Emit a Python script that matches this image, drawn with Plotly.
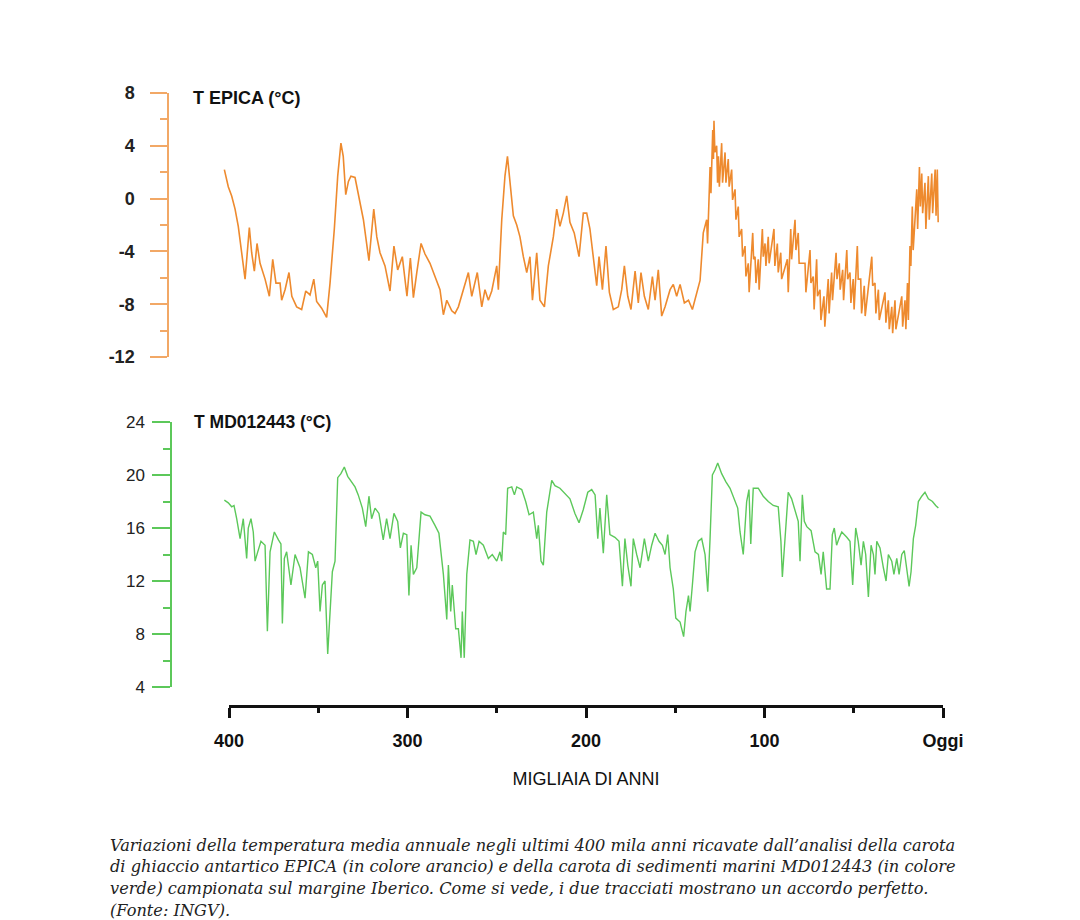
import plotly.graph_objects as go

# EPICA ice core temperature (thousands of years ago, degC)
epica_age = [402.6, 400.4, 398.5, 396.6, 394.8, 392.9, 391.0, 388.6, 387.3, 385.8, 384.3, 382.6,
             379.8, 377.4, 375.5, 373.7, 371.4, 370.5, 368.6, 366.4, 364.8, 362.1, 359.3, 357.0,
             354.6, 352.5, 350.9, 348.1, 345.3, 343.4, 341.0, 339.1, 337.3, 336.0, 334.6, 333.1,
             331.7, 329.4, 327.5, 324.7, 321.6, 320.4, 318.9, 317.2, 315.4, 312.6, 309.8, 307.6,
             305.5, 302.9, 300.3, 298.4, 296.7, 294.8, 292.4, 290.2, 287.4, 284.6, 281.8, 279.9,
             278.0, 275.2, 273.4, 271.5, 268.7, 265.9, 264.0, 260.9, 258.4, 256.6, 254.7, 252.8,
             250.0, 249.1, 247.2, 245.4, 244.0, 242.6, 240.7, 238.8, 237.0, 235.1, 233.2, 231.4,
             230.0, 227.6, 225.8, 223.3, 221.1, 218.3, 216.4, 214.6, 212.7, 210.8, 209.0, 206.6,
             203.9, 201.5, 199.6, 197.8, 195.9, 194.0, 192.7, 190.8, 188.8, 186.9, 184.7, 181.9,
             180.0, 178.5, 176.6, 174.8, 172.5, 170.7, 169.2, 167.3, 165.1, 162.8, 161.3, 159.5,
             157.6, 155.7, 152.9, 151.1, 149.2, 147.3, 144.9, 142.6, 140.4, 138.5, 136.1, 134.3,
             132.4, 131.9, 130.5, 130.0, 129.0, 128.6, 128.3, 127.8, 126.8, 126.3, 125.8, 125.3,
             124.0, 123.5, 122.1, 121.6, 120.3, 119.8, 118.4, 117.9, 116.5, 116.0, 114.7, 114.2,
             112.8, 112.3, 110.9, 110.4, 109.1, 108.6, 106.6, 106.1, 105.3, 104.8, 103.5, 103.0,
             101.2, 100.7, 99.7, 99.2, 97.9, 97.4, 94.7, 94.2, 92.8, 92.3, 90.9, 90.4,
             87.2, 86.7, 85.3, 84.8, 82.9, 82.4, 81.1, 80.6, 77.3, 76.8, 74.5, 74.0,
             72.7, 72.2, 70.8, 70.3, 68.9, 68.4, 66.7, 66.2, 64.3, 63.8, 62.4, 61.9,
             59.9, 59.4, 58.1, 57.6, 56.2, 55.7, 53.9, 53.4, 52.1, 51.6, 50.3, 49.8,
             48.0, 47.5, 46.1, 45.6, 44.1, 43.6, 39.9, 39.4, 38.1, 37.6, 36.2, 35.7,
             32.5, 32.0, 30.6, 30.1, 28.7, 28.2, 26.9, 26.4, 23.1, 22.6, 21.3, 20.8,
             19.9, 19.4, 18.5, 18.0, 17.2, 16.7, 14.7, 14.2, 13.2, 12.7, 11.9, 11.4,
             10.1, 9.6, 8.2, 7.7, 6.3, 5.8, 4.4, 3.9, 3.2, 2.7]
epica_temp = [2.2, 0.9, 0.2, -0.8, -2.1, -4.1, -6.1, -2.2, -4.1, -5.5, -3.4, -4.9,
              -6.1, -7.4, -4.6, -6.4, -6.4, -7.7, -6.9, -5.6, -7.4, -8.2, -8.4, -7.0,
              -7.3, -6.1, -7.8, -8.3, -9.0, -6.4, -2.3, 1.7, 4.2, 3.2, 0.3, 1.3,
              1.7, 1.6, 0.3, -1.6, -4.7, -2.9, -0.8, -2.9, -4.1, -5.1, -7.0, -3.6,
              -5.4, -4.4, -7.4, -4.5, -7.5, -5.6, -3.4, -4.2, -4.9, -5.9, -6.9, -8.8,
              -7.7, -8.5, -8.7, -8.2, -6.9, -5.6, -7.4, -5.6, -8.2, -6.9, -7.7, -7.0,
              -5.1, -6.9, -1.6, 1.7, 3.2, 1.2, -1.3, -2.0, -2.9, -4.4, -5.6, -4.4,
              -7.7, -4.1, -7.7, -8.2, -5.1, -2.9, -0.8, -2.1, -1.1, 0.2, -1.8, -2.6,
              -4.4, -1.1, -1.1, -2.3, -4.6, -6.6, -4.4, -6.9, -3.6, -7.1, -8.4, -8.2,
              -6.9, -5.1, -7.4, -8.4, -5.5, -7.9, -5.6, -7.4, -8.4, -5.9, -7.7, -5.4,
              -8.9, -8.2, -6.9, -6.5, -7.4, -6.5, -7.9, -7.7, -8.4, -7.4, -6.2, -2.6,
              -1.6, -3.4, 2.4, 0.4, 5.2, 3.0, 5.9, 3.5, 4.0, 1.2, 3.2, 0.9,
              4.2, 1.2, 3.5, 1.2, 3.0, 0.9, 2.2, -0.1, 0.7, -1.6, -0.6, -2.9,
              -2.3, -4.4, -3.6, -5.9, -4.9, -7.1, -2.6, -4.6, -4.4, -6.4, -4.6, -6.9,
              -2.3, -4.4, -3.4, -5.1, -2.9, -4.9, -2.3, -5.1, -3.4, -5.6, -4.1, -6.1,
              -4.6, -7.1, -2.3, -4.6, -1.6, -3.9, -2.6, -4.9, -4.9, -7.1, -3.9, -6.4,
              -5.9, -8.4, -4.6, -7.4, -6.9, -9.2, -7.4, -9.7, -6.1, -8.7, -5.6, -7.7,
              -4.1, -6.1, -4.9, -6.9, -5.4, -7.7, -3.9, -6.1, -5.6, -7.9, -6.1, -8.4,
              -3.6, -6.1, -6.1, -8.7, -6.6, -8.9, -4.4, -6.6, -6.4, -8.7, -6.9, -9.2,
              -7.1, -9.4, -7.7, -9.9, -8.2, -10.2, -7.7, -9.9, -7.4, -9.7, -7.7, -9.9,
              -6.4, -9.2, -3.6, -5.1, -0.6, -3.9, 0.7, -2.3, 2.4, -0.6, 1.9, -1.1,
              1.2, -2.3, 1.7, -1.6, 1.9, -1.1, 2.2, -1.3, 2.2, -1.8]

# MD012443 marine sediment core temperature
md_age = [402.6, 400.4, 398.5, 397.2, 395.7, 393.8, 392.0, 390.1, 389.2, 387.7, 386.4, 385.4,
          383.9, 382.1, 379.8, 378.5, 377.0, 374.6, 372.3, 370.9, 370.1, 369.0, 367.7, 365.3,
          363.0, 360.2, 357.4, 355.5, 353.3, 351.4, 350.3, 349.0, 347.7, 346.2, 344.7, 343.4,
          342.1, 340.6, 339.1, 337.3, 335.4, 333.5, 331.3, 329.4, 327.6, 325.3, 323.4, 321.6,
          320.1, 318.2, 316.0, 313.6, 311.7, 309.8, 307.6, 305.5, 304.0, 302.3, 300.4, 299.2,
          298.0, 296.7, 294.8, 292.4, 290.2, 287.4, 284.6, 282.4, 279.9, 278.0, 277.1, 275.8,
          274.9, 273.0, 271.5, 270.0, 269.3, 268.2, 266.8, 265.0, 263.1, 261.6, 259.9, 257.5,
          254.7, 252.5, 250.0, 248.2, 247.2, 246.3, 245.0, 243.9, 241.6, 240.1, 238.8, 236.0,
          233.8, 231.9, 229.5, 227.6, 226.7, 225.2, 223.9, 222.0, 219.2, 217.4, 214.6, 211.8,
          209.0, 206.2, 203.9, 201.5, 199.0, 196.8, 194.9, 193.4, 192.2, 190.3, 188.4, 186.6,
          183.8, 181.5, 179.6, 178.2, 176.6, 174.8, 173.5, 171.6, 169.7, 167.3, 165.1, 163.2,
          161.3, 159.1, 157.2, 155.7, 154.2, 152.9, 151.1, 149.7, 147.3, 145.3, 144.0, 142.6,
          141.7, 140.4, 138.9, 137.1, 135.2, 133.3, 131.8, 130.5, 129.2, 127.7, 126.2, 124.0,
          121.7, 119.3, 116.9, 115.0, 113.7, 111.9, 110.0, 108.7, 107.7, 106.3, 103.5, 100.7,
          97.9, 95.1, 92.3, 90.8, 90.0, 88.5, 86.7, 84.8, 82.6, 81.1, 80.1, 78.8,
          77.7, 76.3, 73.9, 71.7, 69.8, 68.3, 67.1, 65.2, 63.3, 62.0, 60.9, 59.6,
          58.3, 56.7, 53.9, 52.1, 50.6, 48.9, 47.5, 45.9, 44.6, 43.3, 41.8, 40.3,
          39.0, 38.1, 37.1, 35.3, 33.4, 31.9, 30.6, 28.7, 27.5, 25.9, 24.6, 23.1,
          21.7, 20.3, 19.0, 17.9, 16.6, 15.3, 13.8, 11.9, 10.1, 8.2, 5.9, 4.1,
          2.6]
md_temp = [18.1, 17.9, 17.6, 17.7, 16.7, 15.2, 16.7, 13.7, 16.0, 16.7, 15.7, 13.5,
           14.2, 15.0, 14.7, 8.2, 14.2, 15.7, 15.1, 14.8, 8.8, 13.7, 14.2, 11.7,
           14.0, 13.0, 10.7, 14.2, 14.0, 13.0, 13.5, 9.7, 11.7, 12.0, 6.5, 9.4,
           12.7, 13.5, 19.8, 20.1, 20.6, 19.9, 19.5, 19.1, 18.5, 17.5, 16.1, 18.4,
           16.7, 17.5, 17.1, 15.1, 16.7, 15.2, 17.1, 16.5, 14.5, 15.6, 15.5, 10.9,
           14.7, 12.5, 13.0, 17.2, 17.0, 16.9, 16.2, 15.6, 12.5, 9.1, 13.2, 9.7,
           11.7, 8.4, 8.4, 6.2, 9.7, 6.2, 12.5, 15.1, 15.0, 14.0, 15.0, 14.7,
           13.7, 14.0, 13.5, 14.2, 13.5, 15.7, 15.5, 19.0, 19.1, 18.5, 19.1, 18.9,
           18.0, 17.0, 17.2, 15.2, 16.2, 13.5, 13.2, 17.2, 19.6, 19.2, 19.0, 18.6,
           18.2, 17.1, 16.4, 17.4, 18.7, 18.9, 18.5, 15.2, 17.5, 14.1, 18.5, 15.5,
           15.3, 15.0, 11.6, 15.2, 13.2, 11.6, 15.2, 14.0, 13.0, 15.2, 13.5, 14.7,
           15.6, 15.0, 14.7, 14.0, 15.5, 13.0, 11.4, 9.2, 8.9, 7.8, 9.7, 10.9,
           9.7, 11.7, 14.2, 15.0, 15.2, 14.0, 11.2, 15.2, 20.0, 20.4, 20.9, 20.1,
           19.5, 19.0, 18.2, 17.5, 15.7, 14.0, 18.0, 18.9, 14.8, 19.0, 19.0, 18.4,
           18.0, 17.7, 17.6, 15.0, 12.3, 15.2, 18.7, 18.2, 17.2, 16.5, 13.5, 18.5,
           16.5, 16.1, 15.8, 14.2, 14.0, 12.5, 14.2, 11.4, 11.4, 15.5, 16.0, 14.7,
           15.2, 15.7, 15.3, 15.0, 11.7, 16.0, 15.0, 13.2, 15.0, 14.0, 10.8, 14.7,
           14.0, 12.5, 15.0, 14.5, 13.0, 12.0, 14.0, 13.5, 12.5, 13.7, 12.5, 14.0,
           14.3, 13.0, 11.6, 12.7, 15.2, 16.2, 18.0, 18.4, 18.7, 18.2, 18.0, 17.7,
           17.5]

x_ticks = [400, 300, 200, 100, 0]
x_ticktext = ["400", "300", "200", "100", "Oggi"]
epica_ticks = [-12, -8, -4, 0, 4, 8]
epica_ticktext = ["-12", "-8", "-4", "0", "4", "8"]
md_ticks = [4, 8, 12, 16, 20, 24]

caption = [
    "Variazioni della temperatura media annuale negli ultimi 400 mila anni ricavate dall\u2019analisi della carota",
    "di ghiaccio antartico EPICA (in colore arancio) e della carota di sedimenti marini MD012443 (in colore",
    "verde) campionata sul margine Iberico. Come si vede, i due tracciati mostrano un accordo perfetto.",
    "(Fonte: INGV).",
]

# the page body adds an 8px margin, so the figure starts at (8, 8)
OFF = 8
W, H = 1080 - OFF, 920 - OFF
ORANGE = "#EE8A2E"
GREEN = "#5CC85A"
SANS = "Liberation Sans, Arial, sans-serif"


def px(x):
    return (x - OFF) / W


def py(y):
    return 1 - (y - OFF) / H


# pixel positions of 400 and "Oggi" on the time axis
X400, X0 = 229, 943
ppk = (X0 - X400) / 400.0
DL, DR = 190, 965
xr = [400 + (X400 - DL) / ppk, 0 - (DR - X0) / ppk]

fig = go.Figure()
fig.add_trace(go.Scatter(x=epica_age, y=epica_temp, mode="lines",
                         line=dict(color=ORANGE, width=1.6), xaxis="x", yaxis="y",
                         hoverinfo="skip"))
fig.add_trace(go.Scatter(x=md_age, y=md_temp, mode="lines",
                         line=dict(color=GREEN, width=1.4), xaxis="x2", yaxis="y2",
                         hoverinfo="skip"))
fig.add_trace(go.Scatter(x=[], y=[], xaxis="x3", yaxis="y3", showlegend=False))

hidden_x = dict(domain=[px(DL), px(DR)], range=xr, visible=False, fixedrange=True,
                automargin=False)

fig.update_layout(
    width=W, height=H, autosize=False,
    margin=dict(l=0, r=0, t=0, b=0, pad=0),
    paper_bgcolor="white", plot_bgcolor="rgba(0,0,0,0)",
    showlegend=False,
    xaxis=dict(hidden_x, anchor="y"),
    xaxis2=dict(hidden_x, anchor="y2"),
    yaxis=dict(domain=[py(357), py(93)], range=[-12, 8], anchor="free", position=px(168),
               automargin=False,
               showgrid=False, zeroline=False, showline=True, linecolor="#F2A866", linewidth=1.5,
               ticks="outside", ticklen=17, tickwidth=1.5, tickcolor="#F2A866",
               tickvals=epica_ticks, ticktext=epica_ticktext, ticklabelstandoff=12,
               minor=dict(dtick=2, ticks="outside", ticklen=7, tickwidth=1.5, tickcolor="#F2A866"),
               tickfont=dict(family=SANS, size=18, color="#222", weight="bold")),
    yaxis2=dict(domain=[py(687), py(422)], range=[4, 24], anchor="free", position=px(171),
                automargin=False,
                showgrid=False, zeroline=False, showline=True, linecolor=GREEN, linewidth=1.5,
                ticks="outside", ticklen=18, tickwidth=1.5, tickcolor=GREEN,
                tickvals=md_ticks, ticklabelstandoff=4,
                minor=dict(dtick=2, ticks="outside", ticklen=7, tickwidth=1.5, tickcolor=GREEN),
                tickfont=dict(family=SANS, size=17, color="#222")),
    xaxis3=dict(domain=[px(X400), px(X0)], range=[400, 0], anchor="free", position=py(706),
                automargin=False,
                showgrid=False, zeroline=False, showline=True, linecolor="#111", linewidth=3,
                ticks="outside", ticklen=10, tickwidth=3, tickcolor="#111",
                tickvals=x_ticks, ticktext=x_ticktext, ticklabelstandoff=7,
                minor=dict(dtick=50, ticks="outside", ticklen=5, tickwidth=3, tickcolor="#111"),
                tickfont=dict(family=SANS, size=18, color="#111", weight="bold"),
                title=dict(text="MIGLIAIA DI ANNI", standoff=22,
                           font=dict(family=SANS, size=18, color="#111"))),
    yaxis3=dict(domain=[0, 0.01], visible=False, anchor="x3", automargin=False),
)

fig.add_annotation(text="T EPICA (°C)", x=px(191), y=py(98), xref="paper", yref="paper",
                   xanchor="left", yanchor="middle", showarrow=False,
                   font=dict(family=SANS, size=18, color="#111", weight="bold"))
fig.add_annotation(text="T MD012443 (°C)", x=px(192), y=py(422), xref="paper", yref="paper",
                   xanchor="left", yanchor="middle", showarrow=False,
                   font=dict(family=SANS, size=17.5, color="#111", weight="bold"))

for i, line in enumerate(caption):
    fig.add_annotation(text=line, x=px(108), y=py(845 + i * 21.7), xref="paper", yref="paper",
                       xanchor="left", yanchor="middle", showarrow=False,
                       font=dict(family="DejaVu Serif, Georgia, serif", size=16.2, color="#222",
                                 style="italic"))

fig.write_html("out.html")
